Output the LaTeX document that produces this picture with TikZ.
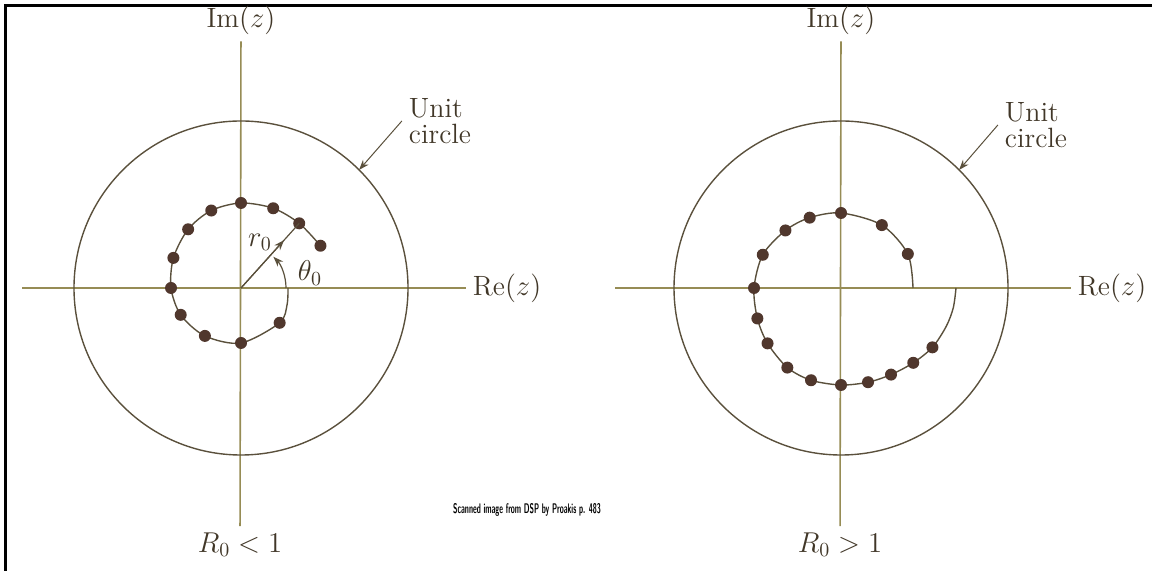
\documentclass[tikz,border=0pt]{standalone}
\usepackage{amsmath,amssymb}
\usetikzlibrary{arrows.meta,calc}
\definecolor{figA}{RGB}{150,140,85}
\definecolor{figC}{RGB}{90,80,60}
\definecolor{figD}{RGB}{80,55,45}
\definecolor{figT}{RGB}{65,55,40}
\begin{document}
\begin{tikzpicture}[x=0.5bp,y=0.5bp,>={Stealth[length=1.8mm,width=1.3mm]},
  axis/.style={figA,line width=0.8pt},
  ucirc/.style={figC,line width=0.7pt},
  spiral/.style={figC,line width=0.7pt},
  zdot/.style={fill=figD},
  lbl/.style={text=figT,font=\fontsize{14}{13}\selectfont}]
\useasboundingbox (0,0) rectangle (1152,571);
\draw[black,line width=1.5bp] (5,0) -- (5,565) -- (1152,565);
% ---------- R_0 < 1 ----------
\begin{scope}[shift={(241,283)}]
\node[lbl] (imL) at (0,268) {Im$(z)$};
\node[lbl] (r0L) at (-1,-257) {$R_0 < 1$};
\node[lbl] (reL) at (266,0) {Re$(z)$};
\coordinate (hL) at (-219,0);
\draw[axis] (imL) -- (r0L);
\draw[axis] (hL) -- (reL);
\draw[ucirc] (0,0) circle[radius=167];
\node[lbl,align=left] (ucL) at (199,167) {Unit\\circle};
\coordinate (ucLp) at (45:167);
\draw[->,figC,line width=0.5pt] (ucL.west) -- (ucLp);
% spiral of zeros, shrinking
\draw[spiral] plot[smooth] coordinates {(28:90)(48:87)(68:86)(90:85)(111:83)(132:79)(156:74)(180:70)(204:66)(233:60)(270:55)(318:52)(340:49)(360:47)};
\foreach \a/\r in {28/90,48/87,68/86,90/85,111/83,132/79,156/74,180/70,204/66,233/60,270/55,318/52}
  \fill[zdot] (\a:\r) circle[radius=6];
\coordinate (oL) at (0,0);
\coordinate (zL) at (48:87);
\draw[figC,line width=0.6pt] (oL) -- (zL);
\draw[->,figC,line width=0.6pt] (oL) -- ($(oL)!0.74!(zL)$);
\draw[->,figC,line width=0.6pt] (0:45) arc[start angle=0,end angle=44,radius=45];
\node[lbl] (rlab) at (19,46) {$r_0$};
\node[lbl] (tlab) at (69,15) {$\theta_0$};
\end{scope}
% ---------- R_0 > 1 ----------
\begin{scope}[shift={(841,283)}]
\node[lbl] (imR) at (0,268) {Im$(z)$};
\node[lbl] (r0R) at (-1,-257) {$R_0 > 1$};
\node[lbl] (reR) at (271,0) {Re$(z)$};
\coordinate (hR) at (-226,0);
\draw[axis] (imR) -- (r0R);
\draw[axis] (hR) -- (reR);
\draw[ucirc] (0,0) circle[radius=167];
\node[lbl,align=left] (ucR) at (195,163) {Unit\\circle};
\coordinate (ucRp) at (45:167);
\draw[->,figC,line width=0.5pt] (ucR.west) -- (ucRp);
% spiral of zeros, growing
\draw[spiral] plot[smooth] coordinates {(0:72)(27:75)(57:75)(90:75)(114:77)(134:80)(157:85)(180:87)(200:89)(217:92)(236:96)(252:97)(270:97)(286:98)(300:100)(314:104)(327:109)(340:112)(350:114)(360:115)};
\foreach \a/\r in {27/75,57/75,90/75,114/77,134/80,157/85,180/87,200/89,217/92,236/96,252/97,270/97,286/98,300/100,314/104,327/109}
  \fill[zdot] (\a:\r) circle[radius=6];
\end{scope}
\node[font=\sffamily\bfseries\fontsize{7}{8}\selectfont,xscale=0.52] (scan) at (527,61) {Scanned image from DSP by Proakis p. 483};
\end{tikzpicture}
\end{document}
